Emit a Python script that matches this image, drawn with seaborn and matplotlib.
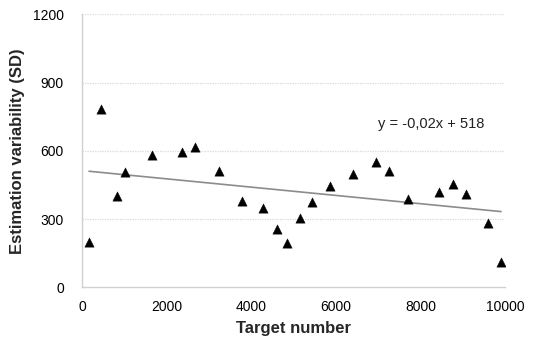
import matplotlib
matplotlib.use("Agg")
import matplotlib.pyplot as plt
import seaborn as sns
import pandas as pd

target = [166, 450, 822, 1026, 1652, 2353, 2671, 3230, 3792, 4273, 4598, 4835,
          5150, 5444, 5854, 6416, 6944, 7252, 7695, 8430, 8776, 9084, 9591, 9907]
sd = [198, 785, 401, 508, 581, 596, 618, 511, 378, 347, 258, 196,
      303, 375, 445, 498, 551, 511, 388, 420, 455, 410, 281, 110]
y_ticks = [0, 300, 600, 900, 1200]
x_ticks = [0, 2000, 4000, 6000, 8000, 10000]
equation = "y = -0,02x + 518"

df = pd.DataFrame({"Target number": target, "SD": sd})

sns.set_theme(style="white")
plt.rcParams["font.family"] = ["Liberation Sans", "DejaVu Sans"]

fig = plt.figure(figsize=(5.34, 3.44), dpi=100)
ax = fig.add_axes([0.1536, 0.1648, 0.7921, 0.7936])

ax.set_axisbelow(True)
for t in y_ticks[1:]:
    ax.axhline(t, color="#d9d9d9", lw=0.9, ls=(0, (1, 1)), zorder=0)

sns.regplot(data=df, x="Target number", y="SD", ax=ax, scatter=False, ci=None,
            truncate=True, line_kws=dict(color="#8c8c8c", lw=1.2))
sns.scatterplot(data=df, x="Target number", y="SD", ax=ax, marker="^",
                color="black", s=45, edgecolor="black", linewidth=0.3, zorder=3)

ax.set_xlim(0, 10000)
ax.set_ylim(0, 1200)
ax.set_xticks(x_ticks)
ax.set_yticks(y_ticks)
ax.tick_params(axis="both", length=0, labelsize=10, colors="black", pad=9)
ax.tick_params(axis="y", pad=13)

for side in ["top", "right"]:
    ax.spines[side].set_visible(False)
for side in ["left", "bottom"]:
    ax.spines[side].set_color("#d0d0d0")
    ax.spines[side].set_linewidth(1.0)

ax.set_xlabel("Target number", fontsize=12, fontweight="bold", labelpad=5)
ax.set_ylabel("Estimation variability (SD)", fontsize=12, fontweight="bold", labelpad=6)

ax.text(7000, 720, equation, fontsize=10.5, ha="left", va="center", color="#222222")

fig.savefig("out.png", dpi=100)
